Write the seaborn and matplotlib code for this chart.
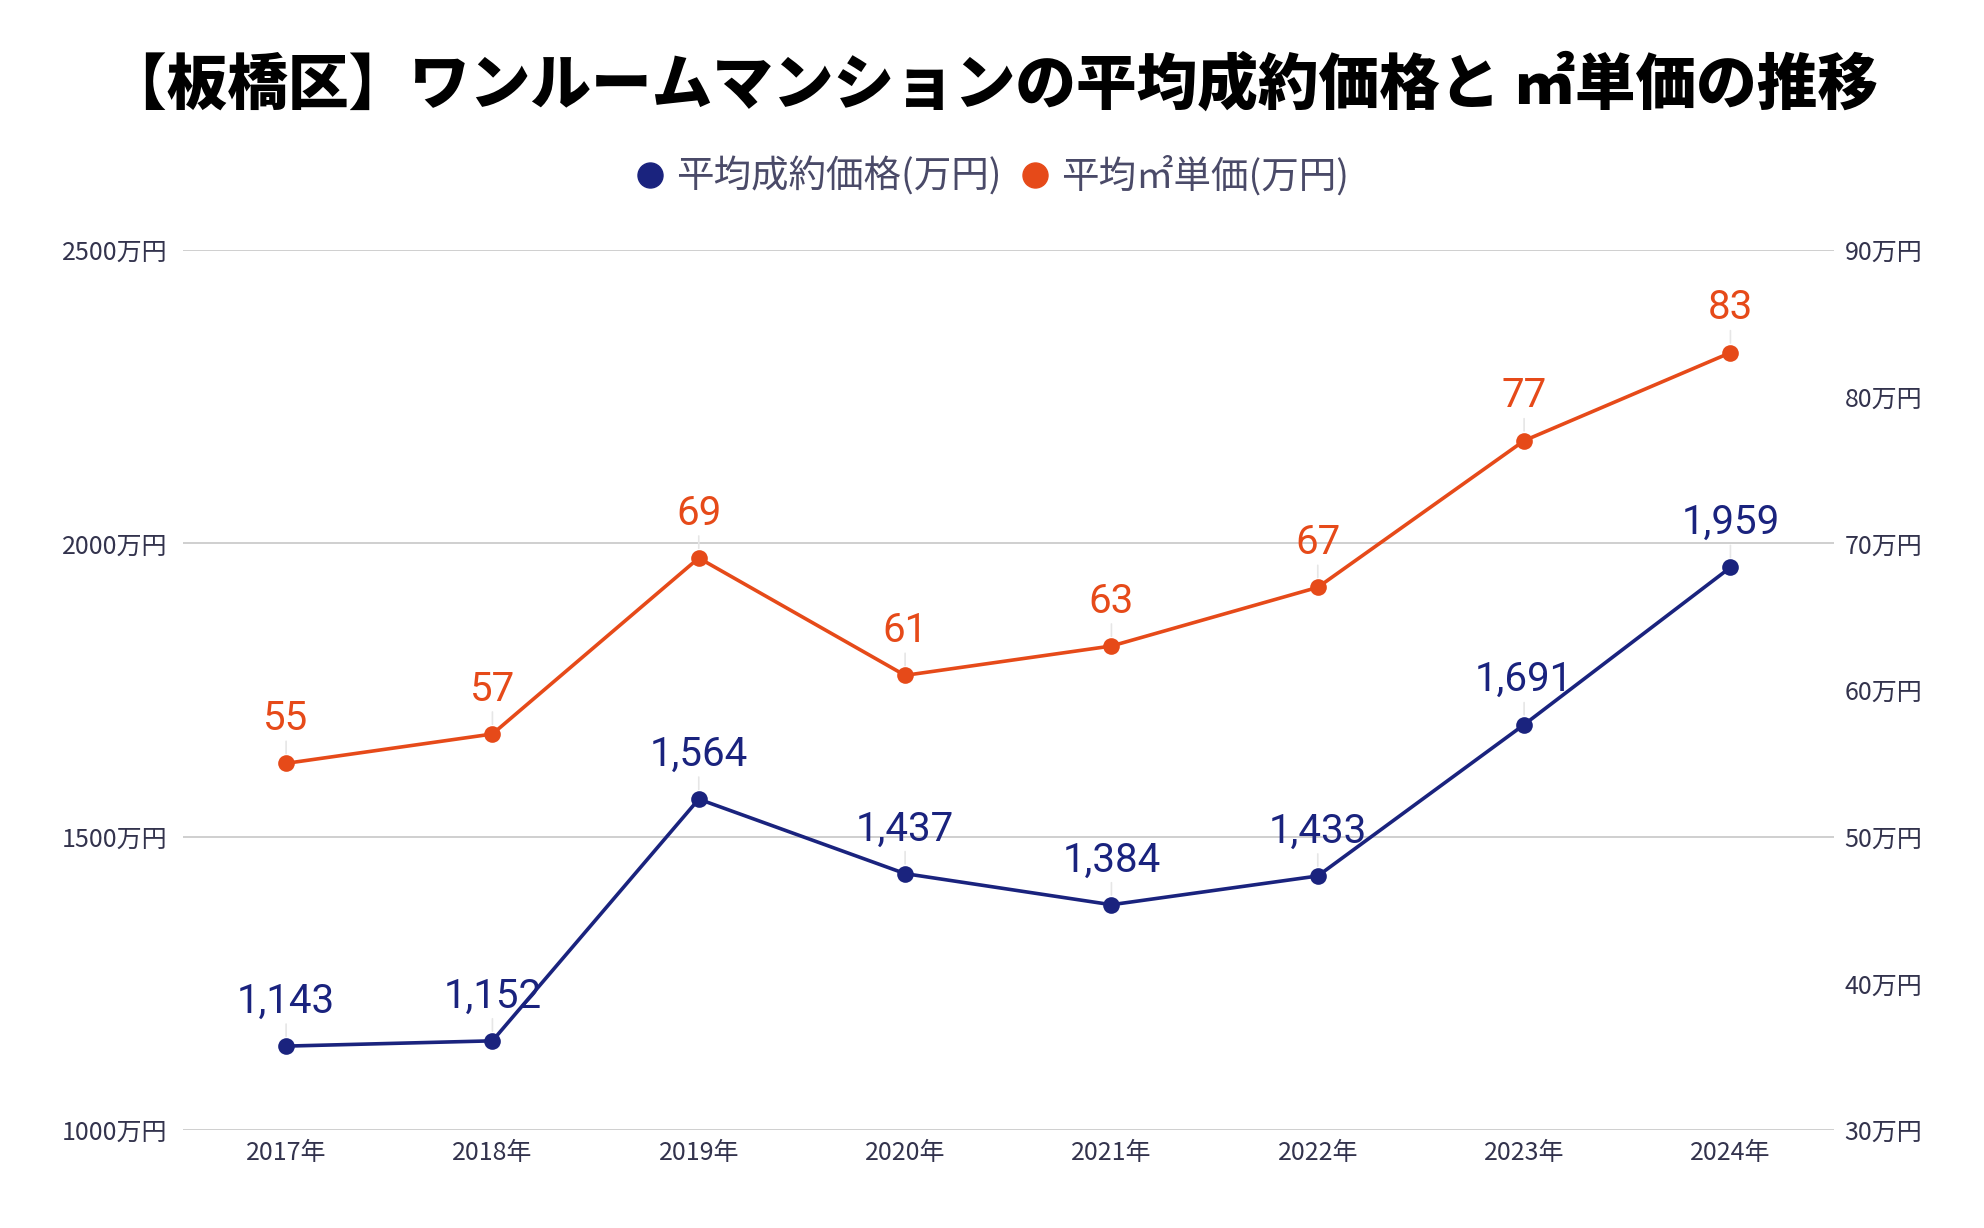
import matplotlib
matplotlib.use("Agg")
import matplotlib.pyplot as plt
import seaborn as sns
import pandas as pd
from matplotlib.lines import Line2D

# chart data
years = ["2017年", "2018年", "2019年", "2020年", "2021年", "2022年", "2023年", "2024年"]
avg_price = [1143, 1152, 1564, 1437, 1384, 1433, 1691, 1959]
unit_price = [55, 57, 69, 61, 63, 67, 77, 83]
left_ticks = [1000, 1500, 2000, 2500]
right_ticks = [30, 40, 50, 60, 70, 80, 90]

title = "【板橋区】ワンルームマンションの平均成約価格と ㎡単価の推移"
price_label = "平均成約価格(万円)"
unit_label = "平均㎡単価(万円)"

blue = "#1a237e"
orange = "#e64a19"
tick_color = "#33334d"

sns.set_style("white")
plt.rcParams["font.family"] = ["Noto Sans CJK JP", "DejaVu Sans"]

df = pd.DataFrame({"year": years, "price": avg_price, "unit": unit_price})

fig = plt.figure(figsize=(19.84, 12.28), dpi=100)
ax = fig.add_axes([0.0922, 0.0798, 0.832, 0.7166])
ax2 = ax.twinx()

sns.lineplot(data=df, x="year", y="price", ax=ax, color=blue, lw=2.6,
             marker="o", markersize=12, markeredgewidth=0, sort=False)
sns.lineplot(data=df, x="year", y="unit", ax=ax2, color=orange, lw=2.6,
             marker="o", markersize=12, markeredgewidth=0, sort=False)

ax.set_xlim(-0.5, len(years) - 0.5)
ax.set_ylim(left_ticks[0], left_ticks[-1])
ax2.set_ylim(right_ticks[0], right_ticks[-1])
ax.set_yticks(left_ticks, labels=[f"{v}万円" for v in left_ticks])
ax2.set_yticks(right_ticks, labels=[f"{v}万円" for v in right_ticks])
ax.set_xlabel("")
ax.set_ylabel("")
ax2.set_ylabel("")

ax.yaxis.grid(True, color="#cccccc", lw=1.3)
ax.xaxis.grid(False)
ax2.grid(False)
for a in (ax, ax2):
    for s in a.spines.values():
        s.set_visible(False)
    a.tick_params(length=0, labelsize=18, colors=tick_color)
ax.tick_params(axis="y", pad=11)
ax2.tick_params(axis="y", pad=8)
ax.tick_params(axis="x", pad=7)

# value labels with thin connectors
def add_labels(a, values, color, fmt):
    for i, v in enumerate(values):
        a.annotate(fmt(v), xy=(i, v), xytext=(0, 24), textcoords="offset points",
                   ha="center", va="baseline", fontsize=29, family="Roboto",
                   color=color,
                   arrowprops=dict(arrowstyle="-", color="#e6e6e6", lw=1.2,
                                   shrinkA=0, shrinkB=7))

add_labels(ax, avg_price, blue, lambda v: f"{v:,}")
add_labels(ax2, unit_price, orange, lambda v: f"{v}")

handles = [Line2D([], [], marker="o", ls="", color=blue, markersize=18),
           Line2D([], [], marker="o", ls="", color=orange, markersize=18)]
fig.legend(handles, [price_label, unit_label], loc="center",
           bbox_to_anchor=(0.5, 0.856), ncol=2, frameon=False, fontsize=27,
           handlelength=0.8, handletextpad=0.3, columnspacing=0.5,
           labelcolor="#4a4a68")

fig.text(0.5, 1 - 86 / 1228, title, ha="center", va="center", fontsize=43.7,
         weight=900, color="black")

fig.savefig("out.png", dpi=100)
